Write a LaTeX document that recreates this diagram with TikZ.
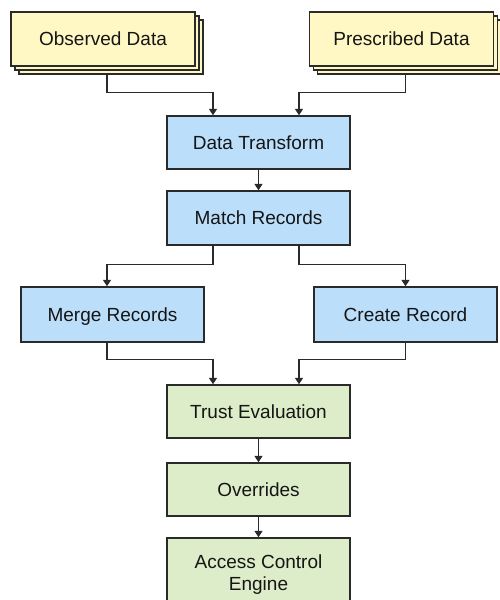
\documentclass[tikz,border=0pt]{standalone}
\usepackage{fontspec}
\setmainfont{Liberation Sans}
\usetikzlibrary{arrows.meta,shadows}
\definecolor{ylw}{HTML}{FFF8C4}
\definecolor{blu}{HTML}{BBDEFA}
\definecolor{grn}{HTML}{DDEDC9}
\definecolor{edge}{HTML}{2A2A2A}
\definecolor{txt}{HTML}{151515}
\begin{document}
\begin{tikzpicture}[x=1pt,y=-1pt,
  box/.style={draw=edge,line width=1.4pt,minimum width=183pt,minimum height=54pt,inner sep=0pt,
    font=\fontsize{19}{22}\selectfont,text=txt,align=center},
  oneline/.style={text height=13.6pt,text depth=0pt},
  srcbox/.style={box,oneline,fill=ylw,minimum width=184pt,
    double copy shadow={shadow xshift=4pt,shadow yshift=-4pt,draw=edge,fill=ylw,line width=1.4pt}},
  procbox/.style={box,oneline,fill=blu},
  evalbox/.style={box,fill=grn},
  arr/.style={draw=edge,line width=1.4pt,-{Triangle[length=6.5pt,width=8pt]}}]
\useasboundingbox (0,0) rectangle (500,600);
\clip (0,0) rectangle (500,600);
\node[srcbox] (obs) at (103,39) {Observed Data};
\node[srcbox] (pre) at (401.5,39) {Prescribed Data};
\node[procbox,minimum height=53pt] (dt) at (258.5,142.5) {Data Transform};
\node[procbox] (mr) at (258.5,218) {Match Records};
\node[procbox,minimum height=55pt] (merge) at (112.5,314.5) {Merge Records};
\node[procbox,minimum height=55pt] (create) at (405.5,314.5) {Create Record};
\node[evalbox,oneline,minimum height=53pt] (trust) at (258.5,411.5) {Trust Evaluation};
\node[evalbox,oneline,minimum height=53pt] (over) at (258.5,489.5) {Overrides};
\node[evalbox,minimum height=74pt] (ace) at (258.5,575) {Access Control\\Engine};
\draw[arr] ([shift={(4pt,-8pt)}]obs.south) -- ++(0,18) -| ([xshift=-45.5pt]dt.north);
\draw[arr] ([shift={(4pt,-8pt)}]pre.south) -- ++(0,18) -| ([xshift=40.5pt]dt.north);
\draw[arr] (dt) -- (mr);
\draw[arr] ([xshift=-45.5pt]mr.south) -- ++(0,19) -| ([xshift=-5.5pt]merge.north);
\draw[arr] ([xshift=40.5pt]mr.south) -- ++(0,19) -| (create.north);
\draw[arr] ([xshift=-5.5pt]merge.south) -- ++(0,17) -| ([xshift=-45.5pt]trust.north);
\draw[arr] (create.south) -- ++(0,17) -| ([xshift=40.5pt]trust.north);
\draw[arr] (trust) -- (over);
\draw[arr] (over) -- (ace);
\end{tikzpicture}
\end{document}
